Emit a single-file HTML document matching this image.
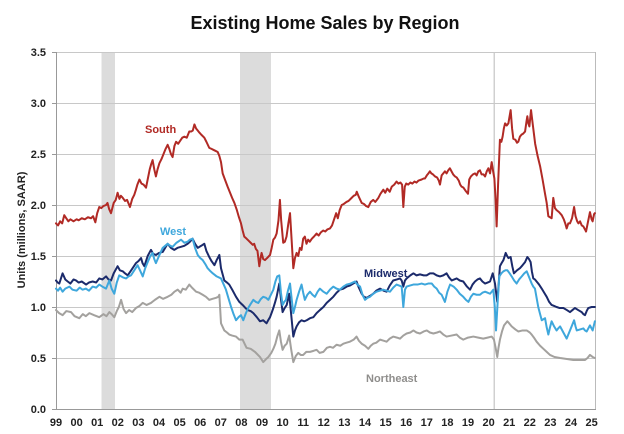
<!DOCTYPE html>
<html><head><meta charset="utf-8"><style>
html,body{margin:0;padding:0;background:#fff;}
svg{display:block;}
text{font-family:"Liberation Sans",Arial,sans-serif;font-weight:bold;}
.pl{fill:none;stroke-width:2;stroke-linejoin:round;stroke-linecap:round;vector-effect:non-scaling-stroke;}
</style></head><body>
<svg width="624" height="434" viewBox="0 0 624 434" xmlns="http://www.w3.org/2000/svg">
<rect width="624" height="434" fill="#fff"/>
<text x="325" y="29" font-size="18" text-anchor="middle" fill="#111">Existing Home Sales by Region</text>
<!-- recession bars -->
<rect x="101.5" y="52" width="13.5" height="357" fill="#dcdcdc"/>
<rect x="240" y="52" width="31" height="357" fill="#dcdcdc"/>
<rect x="493.5" y="52" width="1.5" height="357" fill="#d0d0d0"/>
<!-- gridlines -->
<g stroke="#c8c8c8" stroke-width="1">
<line x1="56" x2="596" y1="52.5" y2="52.5"/>
<line x1="56" x2="596" y1="103.5" y2="103.5"/>
<line x1="56" x2="596" y1="154.5" y2="154.5"/>
<line x1="56" x2="596" y1="205.5" y2="205.5"/>
<line x1="56" x2="596" y1="256.5" y2="256.5"/>
<line x1="56" x2="596" y1="307.5" y2="307.5"/>
<line x1="56" x2="596" y1="358.5" y2="358.5"/>
</g>
<line x1="595.5" x2="595.5" y1="52" y2="409" stroke="#bbb" stroke-width="1"/>
<g stroke="#999" stroke-width="1">
<line x1="56.5" x2="56.5" y1="52" y2="409.5"/>
<line x1="56" x2="596" y1="409.5" y2="409.5"/>
<line x1="52" x2="56" y1="52.5" y2="52.5"/>
<line x1="52" x2="56" y1="103.5" y2="103.5"/>
<line x1="52" x2="56" y1="154.5" y2="154.5"/>
<line x1="52" x2="56" y1="205.5" y2="205.5"/>
<line x1="52" x2="56" y1="256.5" y2="256.5"/>
<line x1="52" x2="56" y1="307.5" y2="307.5"/>
<line x1="52" x2="56" y1="358.5" y2="358.5"/>
<line x1="52" x2="56" y1="409.5" y2="409.5"/>
</g>
<g font-size="11" fill="#222" text-anchor="end">
<text x="46" y="56">3.5</text>
<text x="46" y="107">3.0</text>
<text x="46" y="158">2.5</text>
<text x="46" y="209">2.0</text>
<text x="46" y="260">1.5</text>
<text x="46" y="311">1.0</text>
<text x="46" y="362">0.5</text>
<text x="46" y="413">0.0</text>
</g>
<g font-size="11" fill="#222" text-anchor="middle">
<text x="56" y="426">99</text>
<text x="76.6" y="426">00</text>
<text x="97.2" y="426">01</text>
<text x="117.8" y="426">02</text>
<text x="138.4" y="426">03</text>
<text x="159" y="426">04</text>
<text x="179.6" y="426">05</text>
<text x="200.2" y="426">06</text>
<text x="220.8" y="426">07</text>
<text x="241.4" y="426">08</text>
<text x="262" y="426">09</text>
<text x="282.6" y="426">10</text>
<text x="303.2" y="426">11</text>
<text x="323.8" y="426">12</text>
<text x="344.4" y="426">13</text>
<text x="365" y="426">14</text>
<text x="385.6" y="426">15</text>
<text x="406.2" y="426">16</text>
<text x="426.8" y="426">17</text>
<text x="447.4" y="426">18</text>
<text x="468" y="426">19</text>
<text x="488.6" y="426">20</text>
<text x="509.2" y="426">21</text>
<text x="529.8" y="426">22</text>
<text x="550.4" y="426">23</text>
<text x="571" y="426">24</text>
<text x="591.6" y="426">25</text>
</g>
<text transform="translate(25,230) rotate(-90)" font-size="11" fill="#222" text-anchor="middle">Units (millions, SAAR)</text>

<g transform="translate(56,409) scale(20.6,-102)">
<polyline class="pl" stroke="#a3a19e" points="0,0.97 0.15,0.94 0.32,0.92 0.5,0.96 0.73,0.95 0.9,0.91 1.13,0.89 1.3,0.93 1.45,0.91 1.62,0.94 1.85,0.92 2.1,0.9 2.3,0.93 2.45,0.91 2.59,0.95 2.7,0.93 2.83,0.9 2.95,0.96 3.05,1.0 3.16,1.07 3.28,0.98 3.4,0.94 3.55,0.97 3.7,0.95 3.88,0.99 4.05,1.01 4.21,1.04 4.4,1.02 4.61,1.04 4.8,1.07 5.02,1.1 5.2,1.08 5.42,1.1 5.6,1.12 5.75,1.15 5.91,1.17 6.05,1.14 6.15,1.18 6.3,1.17 6.47,1.22 6.6,1.19 6.8,1.15 6.95,1.14 7.12,1.12 7.28,1.1 7.44,1.07 7.6,1.08 7.77,1.09 7.88,1.1 7.93,1.12 8.01,0.84 8.17,0.77 8.3,0.75 8.41,0.73 8.55,0.72 8.74,0.71 8.9,0.68 9.06,0.68 9.25,0.6 9.45,0.59 9.66,0.56 9.9,0.51 10.06,0.46 10.2,0.49 10.31,0.51 10.45,0.55 10.55,0.59 10.65,0.64 10.74,0.71 10.84,0.77 10.92,0.66 11.0,0.58 11.1,0.62 11.2,0.64 11.32,0.72 11.42,0.58 11.52,0.46 11.64,0.52 11.76,0.55 11.88,0.53 12.0,0.53 12.15,0.56 12.33,0.56 12.5,0.57 12.65,0.58 12.8,0.55 12.98,0.56 13.15,0.6 13.3,0.61 13.45,0.6 13.62,0.63 13.8,0.62 13.95,0.64 14.1,0.65 14.27,0.66 14.45,0.68 14.59,0.71 14.7,0.67 14.84,0.64 15.0,0.62 15.16,0.59 15.28,0.62 15.4,0.64 15.55,0.65 15.73,0.68 15.9,0.67 16.05,0.66 16.2,0.69 16.37,0.71 16.55,0.7 16.7,0.69 16.86,0.72 17.02,0.74 17.2,0.75 17.35,0.77 17.5,0.75 17.67,0.74 17.85,0.76 18.0,0.77 18.15,0.75 18.32,0.74 18.5,0.75 18.64,0.76 18.8,0.73 18.96,0.71 19.2,0.72 19.45,0.73 19.6,0.7 19.77,0.68 20.0,0.7 20.26,0.71 20.5,0.7 20.74,0.69 20.95,0.7 21.15,0.71 21.26,0.68 21.34,0.6 21.42,0.51 21.48,0.6 21.55,0.68 21.65,0.76 21.75,0.82 21.91,0.86 22.0,0.84 22.12,0.81 22.3,0.78 22.44,0.76 22.65,0.77 22.85,0.77 23.0,0.75 23.09,0.73 23.2,0.7 23.33,0.66 23.5,0.62 23.66,0.59 23.82,0.56 23.98,0.53 24.2,0.51 24.47,0.5 24.8,0.49 25.11,0.48 25.4,0.48 25.68,0.48 25.8,0.5 25.92,0.53 26.05,0.51 26.16,0.5"/>
<polyline class="pl" stroke="#1b2a6b" points="0,1.26 0.08,1.24 0.16,1.23 0.24,1.28 0.32,1.33 0.45,1.27 0.57,1.25 0.7,1.23 0.85,1.27 0.97,1.26 1.1,1.24 1.25,1.25 1.46,1.22 1.6,1.24 1.78,1.25 1.95,1.24 2.1,1.28 2.25,1.27 2.43,1.3 2.55,1.27 2.67,1.26 2.8,1.33 2.99,1.4 3.1,1.36 3.24,1.35 3.35,1.33 3.48,1.31 3.65,1.36 3.88,1.43 4.0,1.45 4.13,1.48 4.2,1.43 4.29,1.4 4.45,1.5 4.61,1.56 4.72,1.52 4.85,1.51 5.0,1.53 5.18,1.54 5.3,1.58 5.42,1.62 5.58,1.58 5.74,1.56 5.9,1.58 6.07,1.59 6.23,1.6 6.39,1.62 6.5,1.64 6.63,1.67 6.75,1.62 6.88,1.58 7.05,1.6 7.2,1.62 7.3,1.55 7.44,1.49 7.55,1.45 7.69,1.41 7.8,1.46 7.93,1.51 8.01,1.38 8.17,1.26 8.3,1.24 8.41,1.22 8.58,1.16 8.74,1.1 8.9,1.05 9.06,1.02 9.2,0.99 9.3,0.97 9.45,0.96 9.58,0.94 9.75,0.9 9.9,0.86 10.06,0.87 10.22,0.84 10.3,0.87 10.39,0.9 10.48,0.95 10.55,0.99 10.64,1.05 10.71,1.1 10.78,1.17 10.84,1.23 10.92,1.08 11.0,0.95 11.1,0.99 11.2,1.02 11.32,1.13 11.42,0.92 11.52,0.71 11.6,0.77 11.68,0.81 11.8,0.85 11.92,0.87 12.05,0.86 12.17,0.87 12.33,0.89 12.49,0.9 12.65,0.94 12.81,0.97 12.98,1.0 13.14,1.04 13.3,1.07 13.46,1.1 13.62,1.14 13.78,1.17 13.95,1.18 14.11,1.2 14.27,1.21 14.43,1.23 14.59,1.25 14.7,1.19 14.84,1.13 14.95,1.1 15.08,1.09 15.25,1.11 15.4,1.13 15.55,1.16 15.73,1.18 15.9,1.16 16.05,1.15 16.2,1.21 16.37,1.26 16.55,1.27 16.7,1.28 16.78,1.26 16.86,1.2 16.94,1.26 17.02,1.28 17.2,1.31 17.35,1.33 17.5,1.31 17.67,1.32 17.85,1.31 17.99,1.31 18.15,1.33 18.32,1.33 18.48,1.31 18.64,1.3 18.8,1.31 18.96,1.33 19.08,1.29 19.21,1.26 19.33,1.27 19.45,1.28 19.6,1.26 19.77,1.25 19.95,1.2 20.1,1.17 20.22,1.22 20.34,1.25 20.46,1.27 20.58,1.28 20.7,1.25 20.83,1.23 20.95,1.24 21.07,1.25 21.2,1.33 21.31,1.23 21.42,1.05 21.48,1.2 21.55,1.4 21.63,1.43 21.72,1.46 21.83,1.53 21.9,1.5 21.96,1.48 22.07,1.49 22.15,1.4 22.23,1.33 22.38,1.36 22.52,1.38 22.65,1.41 22.77,1.44 22.88,1.49 22.96,1.47 23.04,1.44 23.1,1.35 23.17,1.28 23.25,1.27 23.33,1.25 23.45,1.22 23.58,1.18 23.7,1.14 23.82,1.1 23.94,1.05 24.06,1.02 24.18,1.01 24.3,1.0 24.45,0.99 24.63,0.99 24.8,0.97 24.95,0.95 25.07,0.97 25.19,0.99 25.35,0.97 25.52,0.95 25.6,0.93 25.68,0.92 25.76,0.96 25.84,0.99 26.0,1.0 26.16,1.0"/>
<polyline class="pl" stroke="#3ea7dc" points="0,1.18 0.1,1.16 0.2,1.19 0.32,1.15 0.45,1.18 0.65,1.2 0.8,1.17 1.0,1.16 1.15,1.19 1.29,1.17 1.45,1.18 1.6,1.16 1.78,1.2 1.95,1.19 2.1,1.22 2.25,1.2 2.43,1.18 2.59,1.26 2.7,1.18 2.83,1.13 2.95,1.24 3.07,1.31 3.25,1.29 3.4,1.28 3.52,1.3 3.64,1.31 3.8,1.36 3.96,1.41 4.1,1.35 4.21,1.3 4.33,1.38 4.45,1.44 4.58,1.5 4.69,1.53 4.77,1.47 4.85,1.43 5.0,1.5 5.18,1.58 5.3,1.6 5.42,1.62 5.55,1.6 5.66,1.59 5.85,1.63 6.07,1.66 6.23,1.63 6.39,1.64 6.5,1.66 6.63,1.67 6.75,1.58 6.88,1.51 7.0,1.48 7.12,1.46 7.25,1.42 7.36,1.38 7.5,1.35 7.61,1.33 7.8,1.3 8.01,1.28 8.12,1.23 8.25,1.17 8.38,1.08 8.5,1.0 8.62,0.93 8.74,0.87 8.86,0.9 8.98,0.92 9.09,0.87 9.22,0.94 9.33,0.99 9.45,1.03 9.58,1.07 9.7,1.05 9.82,1.04 9.95,1.08 10.06,1.1 10.2,1.09 10.31,1.07 10.43,1.12 10.55,1.17 10.65,1.25 10.74,1.3 10.84,1.31 10.92,1.14 11.0,1.02 11.08,1.05 11.16,1.07 11.26,1.16 11.36,1.23 11.44,1.08 11.52,0.94 11.6,1.0 11.68,1.07 11.8,1.15 11.92,1.22 12.0,1.14 12.08,1.07 12.2,1.12 12.33,1.15 12.45,1.12 12.57,1.1 12.7,1.15 12.81,1.18 12.98,1.15 13.14,1.13 13.3,1.17 13.46,1.2 13.62,1.18 13.78,1.17 13.95,1.2 14.11,1.22 14.3,1.23 14.51,1.25 14.63,1.22 14.76,1.2 14.88,1.12 15.0,1.07 15.12,1.09 15.24,1.1 15.4,1.13 15.56,1.15 15.72,1.16 15.89,1.17 16.05,1.16 16.21,1.15 16.37,1.19 16.53,1.22 16.66,1.21 16.78,1.2 16.86,1.0 16.94,1.17 17.02,1.2 17.18,1.21 17.35,1.22 17.55,1.22 17.75,1.23 17.91,1.22 18.07,1.23 18.24,1.23 18.36,1.2 18.48,1.18 18.6,1.14 18.72,1.12 18.88,1.05 19.0,1.15 19.13,1.22 19.3,1.2 19.45,1.17 19.6,1.13 19.77,1.1 19.9,1.07 20.02,1.05 20.14,1.1 20.26,1.13 20.42,1.12 20.58,1.12 20.7,1.14 20.83,1.15 20.95,1.14 21.07,1.13 21.15,1.15 21.23,1.17 21.3,1.0 21.36,0.77 21.44,1.05 21.52,1.3 21.62,1.33 21.72,1.35 21.82,1.36 21.91,1.36 22.02,1.33 22.12,1.3 22.24,1.26 22.36,1.23 22.48,1.27 22.61,1.3 22.73,1.33 22.85,1.35 22.97,1.29 23.09,1.23 23.17,1.2 23.25,1.18 23.33,1.09 23.41,1.0 23.5,0.93 23.58,0.87 23.66,0.88 23.74,0.89 23.82,0.8 23.9,0.73 23.98,0.8 24.06,0.86 24.18,0.81 24.3,0.77 24.38,0.79 24.47,0.81 24.63,0.75 24.79,0.69 24.87,0.73 24.95,0.77 25.05,0.82 25.15,0.87 25.22,0.81 25.28,0.77 25.44,0.78 25.6,0.79 25.68,0.77 25.76,0.76 25.84,0.79 25.92,0.82 26.05,0.77 26.16,0.86"/>
<polyline class="pl" stroke="#b12a25" points="0,1.82 0.1,1.8 0.2,1.84 0.3,1.82 0.4,1.9 0.5,1.87 0.6,1.84 0.7,1.86 0.85,1.84 1.0,1.86 1.1,1.85 1.25,1.87 1.4,1.86 1.55,1.88 1.7,1.87 1.8,1.89 1.91,1.83 2.0,1.92 2.1,1.98 2.2,1.97 2.3,1.99 2.43,2.0 2.5,2.02 2.58,1.96 2.67,1.92 2.8,2.02 2.9,2.05 2.99,2.12 3.08,2.06 3.15,2.09 3.24,2.07 3.35,2.04 3.45,2.05 3.59,1.98 3.7,2.06 3.8,2.1 3.88,2.15 3.95,2.2 4.05,2.25 4.15,2.21 4.25,2.2 4.37,2.17 4.45,2.25 4.55,2.35 4.62,2.4 4.69,2.44 4.77,2.35 4.85,2.28 4.93,2.35 5.02,2.41 5.12,2.45 5.22,2.5 5.32,2.55 5.42,2.59 5.5,2.55 5.58,2.5 5.66,2.47 5.75,2.58 5.83,2.62 5.93,2.6 6.03,2.63 6.13,2.66 6.23,2.67 6.35,2.66 6.47,2.72 6.56,2.72 6.64,2.73 6.72,2.79 6.8,2.75 6.88,2.73 6.96,2.71 7.05,2.69 7.2,2.66 7.3,2.62 7.44,2.56 7.55,2.55 7.65,2.54 7.75,2.53 7.85,2.52 7.93,2.48 8.01,2.42 8.09,2.31 8.2,2.25 8.33,2.18 8.45,2.12 8.55,2.07 8.66,2.02 8.78,1.95 8.88,1.88 8.98,1.82 9.06,1.75 9.14,1.69 9.25,1.67 9.35,1.65 9.45,1.63 9.55,1.61 9.62,1.62 9.7,1.57 9.78,1.55 9.87,1.4 9.93,1.48 9.98,1.53 10.06,1.47 10.14,1.46 10.25,1.48 10.39,1.51 10.47,1.58 10.55,1.66 10.63,1.68 10.71,1.72 10.8,1.85 10.87,2.05 10.93,1.85 11.03,1.63 11.11,1.64 11.19,1.69 11.28,1.82 11.36,1.92 11.44,1.65 11.52,1.38 11.6,1.48 11.68,1.53 11.76,1.5 11.84,1.58 11.92,1.56 12.0,1.67 12.08,1.69 12.16,1.62 12.24,1.66 12.32,1.64 12.42,1.67 12.52,1.69 12.65,1.72 12.75,1.7 12.85,1.73 12.97,1.75 13.07,1.74 13.17,1.76 13.3,1.77 13.4,1.8 13.5,1.86 13.6,1.92 13.68,1.87 13.77,1.95 13.87,2.0 13.97,2.01 14.1,2.03 14.2,2.04 14.35,2.07 14.45,2.09 14.55,2.1 14.6,2.13 14.7,2.08 14.84,2.02 14.95,2.01 15.05,1.99 15.16,1.98 15.28,2.03 15.4,2.05 15.5,2.03 15.65,2.07 15.75,2.11 15.82,2.13 15.89,2.15 15.98,2.12 16.08,2.16 16.2,2.13 16.3,2.18 16.42,2.2 16.53,2.23 16.62,2.21 16.72,2.22 16.8,2.2 16.86,1.98 16.93,2.18 17.0,2.21 17.1,2.2 17.2,2.22 17.3,2.21 17.4,2.23 17.5,2.22 17.6,2.24 17.75,2.25 17.85,2.26 17.91,2.26 18.0,2.29 18.08,2.31 18.15,2.33 18.22,2.31 18.3,2.3 18.4,2.28 18.5,2.27 18.58,2.24 18.64,2.2 18.72,2.29 18.8,2.31 18.88,2.33 18.96,2.31 19.04,2.34 19.12,2.36 19.2,2.33 19.28,2.3 19.37,2.28 19.45,2.27 19.55,2.24 19.62,2.2 19.69,2.18 19.78,2.17 19.88,2.14 20.0,2.11 20.06,2.25 20.14,2.28 20.24,2.3 20.34,2.31 20.42,2.29 20.5,2.33 20.58,2.34 20.66,2.3 20.75,2.3 20.83,2.28 20.91,2.33 20.99,2.36 21.07,2.31 21.15,2.42 21.22,2.33 21.28,2.26 21.34,2.05 21.39,1.79 21.46,2.2 21.55,2.64 21.62,2.62 21.68,2.67 21.74,2.75 21.8,2.8 21.88,2.78 21.96,2.8 22.07,2.93 22.14,2.75 22.2,2.65 22.3,2.64 22.38,2.61 22.44,2.62 22.52,2.67 22.6,2.69 22.68,2.7 22.77,2.72 22.84,2.82 22.88,2.87 22.93,2.8 22.98,2.77 23.06,2.93 23.15,2.78 23.26,2.6 23.38,2.48 23.5,2.38 23.62,2.25 23.74,2.11 23.82,2.02 23.9,1.89 23.98,1.88 24.06,1.87 24.14,2.07 24.22,1.97 24.3,1.95 24.42,1.93 24.55,1.9 24.65,1.86 24.72,1.82 24.79,1.77 24.87,1.82 24.95,1.82 25.05,1.87 25.15,1.98 25.22,1.89 25.3,1.84 25.36,1.82 25.44,1.84 25.52,1.8 25.6,1.79 25.68,1.76 25.73,1.74 25.82,1.83 25.92,1.93 26.0,1.86 26.05,1.84 26.12,1.91 26.16,1.92"/>
</g>
<text x="145" y="133" font-size="11" fill="#b12a25">South</text>
<text x="160" y="235" font-size="11" fill="#3ea7dc">West</text>
<text x="364" y="277" font-size="11" fill="#1b2a6b">Midwest</text>
<text x="366" y="382" font-size="11" fill="#8f8e8c">Northeast</text>
</svg>
</body></html>
